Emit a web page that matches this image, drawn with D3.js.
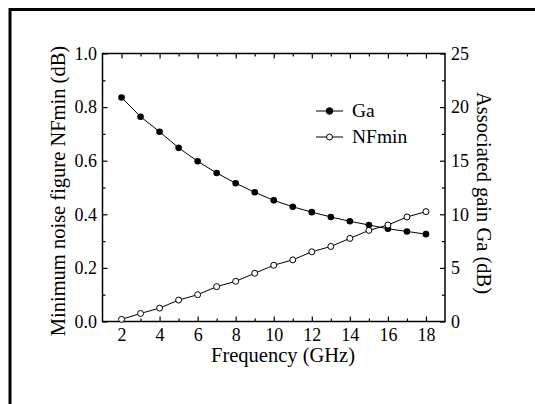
<!DOCTYPE html>
<html>
<head>
<meta charset="utf-8">
<script src="https://cdn.jsdelivr.net/npm/d3@7"></script>
<style>
  body { margin: 0; background: #fff; }
</style>
</head>
<body>
<div id="chart"></div>
<script>
// data
const freq = [2, 3, 4, 5, 6, 7, 8, 9, 10, 11, 12, 13, 14, 15, 16, 17, 18];
const gaValues = [20.9, 19.1, 17.7, 16.2, 14.95, 13.85, 12.9, 12.05, 11.3, 10.7, 10.2, 9.75, 9.35, 9.0, 8.65, 8.4, 8.15];
const nfValues = [0.008, 0.03, 0.05, 0.08, 0.10, 0.13, 0.15, 0.18, 0.21, 0.23, 0.26, 0.28, 0.31, 0.34, 0.36, 0.39, 0.41];
const xTicks = [2, 4, 6, 8, 10, 12, 14, 16, 18];
const xMinor = [3, 5, 7, 9, 11, 13, 15, 17];
const leftTicks = [0, 0.2, 0.4, 0.6, 0.8, 1.0];
const leftMinor = [0.1, 0.3, 0.5, 0.7, 0.9];
const rightTicks = [0, 5, 10, 15, 20, 25];
const rightMinor = [2.5, 7.5, 12.5, 17.5, 22.5];

const FONT = "'Liberation Serif', 'Times New Roman', serif";

const W = 535, H = 404;
const margin = { top: 53.5, right: 90, bottom: 82.5, left: 102.5 },
  width = W - margin.left - margin.right,
  height = H - margin.top - margin.bottom;

const root = d3.select("#chart").append("svg")
  .attr("width", W)
  .attr("height", H)
  .style("font-family", FONT);

// outer frame (only top and left visible in the crop)
root.append("path")
  .attr("d", `M10,${H} V9.5 H${W}`)
  .attr("fill", "none")
  .attr("stroke", "#000")
  .attr("stroke-width", 3);

const svg = root.append("g")
  .attr("transform", `translate(${margin.left},${margin.top})`);

const x = d3.scaleLinear().domain([1, 19]).range([0, width]);
const yL = d3.scaleLinear().domain([0, 1]).range([height, 0]);
const yR = d3.scaleLinear().domain([0, 25]).range([height, 0]);

const tickFont = 18, legendFont = 19.5, titleFont = 20.5;

function styleAxis(g) {
  g.attr("font-family", null).attr("font-size", null);
  g.selectAll(".domain").remove();
  g.selectAll(".tick line").attr("stroke", "#000").attr("stroke-width", 1.2);
  g.selectAll("text")
    .style("font-family", FONT)
    .style("font-size", tickFont + "px")
    .attr("fill", "#000");
}

// major + minor ticks, all pointing inward
svg.append("g").attr("transform", `translate(0,${height})`)
  .call(d3.axisBottom(x).tickValues(xTicks).tickSize(-5).tickPadding(7).tickFormat(d3.format("d")))
  .call(styleAxis);
svg.append("g").attr("transform", `translate(0,${height})`)
  .call(d3.axisBottom(x).tickValues(xMinor).tickSize(-3).tickFormat(""))
  .call(styleAxis);
svg.append("g")
  .call(d3.axisTop(x).tickValues(xTicks).tickSize(-5).tickFormat(""))
  .call(styleAxis);
svg.append("g")
  .call(d3.axisTop(x).tickValues(xMinor).tickSize(-3).tickFormat(""))
  .call(styleAxis);

svg.append("g")
  .call(d3.axisLeft(yL).tickValues(leftTicks).tickSize(-5).tickPadding(5.5).tickFormat(d3.format(".1f")))
  .call(styleAxis);
svg.append("g")
  .call(d3.axisLeft(yL).tickValues(leftMinor).tickSize(-3).tickFormat(""))
  .call(styleAxis);

svg.append("g").attr("transform", `translate(${width},0)`)
  .call(d3.axisRight(yR).tickValues(rightTicks).tickSize(-5).tickPadding(6).tickFormat(d3.format("d")))
  .call(styleAxis);
svg.append("g").attr("transform", `translate(${width},0)`)
  .call(d3.axisRight(yR).tickValues(rightMinor).tickSize(-3).tickFormat(""))
  .call(styleAxis);

// plot frame
svg.append("rect")
  .attr("width", width)
  .attr("height", height)
  .attr("fill", "none")
  .attr("stroke", "#000")
  .attr("stroke-width", 1.5);

const gaData = freq.map((f, i) => ({ f: f, v: gaValues[i] }));
const nfData = freq.map((f, i) => ({ f: f, v: nfValues[i] }));

// Ga series (right axis)
svg.append("path")
  .datum(gaData)
  .attr("fill", "none")
  .attr("stroke", "#000")
  .attr("stroke-width", 1)
  .attr("d", d3.line().x((d) => x(d.f)).y((d) => yR(d.v)));

// NFmin series (left axis)
svg.append("path")
  .datum(nfData)
  .attr("fill", "none")
  .attr("stroke", "#000")
  .attr("stroke-width", 1)
  .attr("d", d3.line().x((d) => x(d.f)).y((d) => yL(d.v)));

svg.append("g").selectAll("circle")
  .data(gaData)
  .join("circle")
  .attr("cx", (d) => x(d.f))
  .attr("cy", (d) => yR(d.v))
  .attr("r", 3.3)
  .attr("fill", "#000");

svg.append("g").selectAll("circle")
  .data(nfData)
  .join("circle")
  .attr("cx", (d) => x(d.f))
  .attr("cy", (d) => yL(d.v))
  .attr("r", 3)
  .attr("fill", "#fff")
  .attr("stroke", "#000")
  .attr("stroke-width", 1);

// legend
const legend = svg.append("g").attr("transform", `translate(${316 - margin.left},${111 - margin.top})`);
const legendItems = [
  { name: "Ga", fill: "#000", r: 3.3 },
  { name: "NFmin", fill: "#fff", r: 3 }
];
legendItems.forEach((item, i) => {
  const g = legend.append("g").attr("transform", `translate(0,${i * 26})`);
  g.append("line").attr("x1", 0).attr("x2", 27).attr("stroke", "#000").attr("stroke-width", 1);
  g.append("circle").attr("cx", 13.5).attr("r", item.r)
    .attr("fill", item.fill).attr("stroke", "#000").attr("stroke-width", 1);
  g.append("text").attr("x", 36).attr("dy", "0.33em")
    .style("font-size", legendFont + "px").text(item.name);
});

// axis titles
svg.append("text")
  .attr("x", 283 - margin.left)
  .attr("y", 362 - margin.top)
  .attr("text-anchor", "middle")
  .style("font-size", titleFont + "px")
  .text("Frequency (GHz)");

svg.append("text")
  .attr("transform", `translate(${64.5 - margin.left},${191 - margin.top}) rotate(-90)`)
  .attr("text-anchor", "middle")
  .style("font-size", titleFont + "px")
  .text("Minimum noise figure NFmin (dB)");

svg.append("text")
  .attr("transform", `translate(${476.5 - margin.left},${193 - margin.top}) rotate(90)`)
  .attr("text-anchor", "middle")
  .style("font-size", titleFont + "px")
  .text("Associated gain Ga (dB)");
</script>
</body>
</html>
